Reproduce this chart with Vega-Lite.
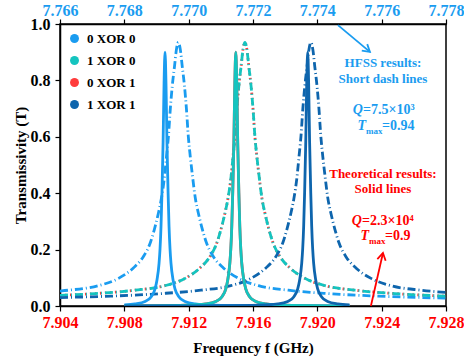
{
  "$schema": "https://vega.github.io/schema/vega-lite/v6.json",
  "width": 386,
  "height": 282,
  "autosize": {"type": "none"},
  "padding": {"left": 60, "top": 24, "right": 18, "bottom": 56},
  "background": "white",
  "config": {
    "view": {"stroke": "black", "strokeWidth": 1.5},
    "font": "Liberation Serif, Times New Roman, serif",
    "text": {"font": "Liberation Serif, Times New Roman, serif", "fontWeight": "bold"}
  },
  "datasets": {
    "hfss": [
      {"series":"0 XOR 0","f":7.766,"T":0.053},{"series":"0 XOR 0","f":7.76626,"T":0.056},{"series":"0 XOR 0","f":7.76719,"T":0.072},{"series":"0 XOR 0","f":7.76782,"T":0.098},{"series":"0 XOR 0","f":7.76828,"T":0.135},{"series":"0 XOR 0","f":7.76859,"T":0.175},{"series":"0 XOR 0","f":7.76881,"T":0.225},{"series":"0 XOR 0","f":7.76893,"T":0.27},{"series":"0 XOR 0","f":7.76906,"T":0.33},{"series":"0 XOR 0","f":7.76915,"T":0.38},{"series":"0 XOR 0","f":7.76925,"T":0.46},{"series":"0 XOR 0","f":7.76931,"T":0.53},{"series":"0 XOR 0","f":7.76937,"T":0.6},{"series":"0 XOR 0","f":7.76943,"T":0.7},{"series":"0 XOR 0","f":7.76949,"T":0.78},{"series":"0 XOR 0","f":7.76956,"T":0.85},{"series":"0 XOR 0","f":7.76962,"T":0.91},{"series":"0 XOR 0","f":7.76968,"T":0.935},{"series":"0 XOR 0","f":7.76974,"T":0.91},{"series":"0 XOR 0","f":7.7698,"T":0.85},{"series":"0 XOR 0","f":7.76987,"T":0.78},{"series":"0 XOR 0","f":7.76993,"T":0.7},{"series":"0 XOR 0","f":7.76999,"T":0.6},{"series":"0 XOR 0","f":7.77005,"T":0.53},{"series":"0 XOR 0","f":7.77012,"T":0.46},{"series":"0 XOR 0","f":7.77021,"T":0.38},{"series":"0 XOR 0","f":7.7703,"T":0.33},{"series":"0 XOR 0","f":7.77043,"T":0.27},{"series":"0 XOR 0","f":7.77055,"T":0.225},{"series":"0 XOR 0","f":7.77077,"T":0.175},{"series":"0 XOR 0","f":7.77108,"T":0.135},{"series":"0 XOR 0","f":7.77155,"T":0.098},{"series":"0 XOR 0","f":7.77217,"T":0.072},{"series":"0 XOR 0","f":7.7731,"T":0.056},{"series":"0 XOR 0","f":7.77434,"T":0.044},{"series":"0 XOR 0","f":7.7759,"T":0.035},{"series":"0 XOR 0","f":7.778,"T":0.028},
      {"series":"1 XOR 0","f":7.766,"T":0.038},{"series":"1 XOR 0","f":7.76709,"T":0.044},{"series":"1 XOR 0","f":7.76833,"T":0.056},{"series":"1 XOR 0","f":7.76926,"T":0.072},{"series":"1 XOR 0","f":7.76989,"T":0.098},{"series":"1 XOR 0","f":7.77035,"T":0.135},{"series":"1 XOR 0","f":7.77066,"T":0.175},{"series":"1 XOR 0","f":7.77088,"T":0.225},{"series":"1 XOR 0","f":7.771,"T":0.27},{"series":"1 XOR 0","f":7.77113,"T":0.33},{"series":"1 XOR 0","f":7.77122,"T":0.38},{"series":"1 XOR 0","f":7.77132,"T":0.46},{"series":"1 XOR 0","f":7.77138,"T":0.53},{"series":"1 XOR 0","f":7.77144,"T":0.6},{"series":"1 XOR 0","f":7.7715,"T":0.7},{"series":"1 XOR 0","f":7.77156,"T":0.78},{"series":"1 XOR 0","f":7.77163,"T":0.85},{"series":"1 XOR 0","f":7.77169,"T":0.91},{"series":"1 XOR 0","f":7.77175,"T":0.935},{"series":"1 XOR 0","f":7.77181,"T":0.91},{"series":"1 XOR 0","f":7.77187,"T":0.85},{"series":"1 XOR 0","f":7.77194,"T":0.78},{"series":"1 XOR 0","f":7.772,"T":0.7},{"series":"1 XOR 0","f":7.77206,"T":0.6},{"series":"1 XOR 0","f":7.77212,"T":0.53},{"series":"1 XOR 0","f":7.77219,"T":0.46},{"series":"1 XOR 0","f":7.77228,"T":0.38},{"series":"1 XOR 0","f":7.77237,"T":0.33},{"series":"1 XOR 0","f":7.7725,"T":0.27},{"series":"1 XOR 0","f":7.77262,"T":0.225},{"series":"1 XOR 0","f":7.77284,"T":0.175},{"series":"1 XOR 0","f":7.77315,"T":0.135},{"series":"1 XOR 0","f":7.77362,"T":0.098},{"series":"1 XOR 0","f":7.77424,"T":0.072},{"series":"1 XOR 0","f":7.77517,"T":0.056},{"series":"1 XOR 0","f":7.77641,"T":0.044},{"series":"1 XOR 0","f":7.778,"T":0.035},
      {"series":"0 XOR 1","f":7.766,"T":0.038},{"series":"0 XOR 1","f":7.76709,"T":0.044},{"series":"0 XOR 1","f":7.76833,"T":0.056},{"series":"0 XOR 1","f":7.76926,"T":0.072},{"series":"0 XOR 1","f":7.76989,"T":0.098},{"series":"0 XOR 1","f":7.77035,"T":0.135},{"series":"0 XOR 1","f":7.77066,"T":0.175},{"series":"0 XOR 1","f":7.77088,"T":0.225},{"series":"0 XOR 1","f":7.771,"T":0.27},{"series":"0 XOR 1","f":7.77113,"T":0.33},{"series":"0 XOR 1","f":7.77122,"T":0.38},{"series":"0 XOR 1","f":7.77132,"T":0.46},{"series":"0 XOR 1","f":7.77138,"T":0.53},{"series":"0 XOR 1","f":7.77144,"T":0.6},{"series":"0 XOR 1","f":7.7715,"T":0.7},{"series":"0 XOR 1","f":7.77156,"T":0.78},{"series":"0 XOR 1","f":7.77163,"T":0.85},{"series":"0 XOR 1","f":7.77169,"T":0.91},{"series":"0 XOR 1","f":7.77175,"T":0.935},{"series":"0 XOR 1","f":7.77181,"T":0.91},{"series":"0 XOR 1","f":7.77187,"T":0.85},{"series":"0 XOR 1","f":7.77194,"T":0.78},{"series":"0 XOR 1","f":7.772,"T":0.7},{"series":"0 XOR 1","f":7.77206,"T":0.6},{"series":"0 XOR 1","f":7.77212,"T":0.53},{"series":"0 XOR 1","f":7.77219,"T":0.46},{"series":"0 XOR 1","f":7.77228,"T":0.38},{"series":"0 XOR 1","f":7.77237,"T":0.33},{"series":"0 XOR 1","f":7.7725,"T":0.27},{"series":"0 XOR 1","f":7.77262,"T":0.225},{"series":"0 XOR 1","f":7.77284,"T":0.175},{"series":"0 XOR 1","f":7.77315,"T":0.135},{"series":"0 XOR 1","f":7.77362,"T":0.098},{"series":"0 XOR 1","f":7.77424,"T":0.072},{"series":"0 XOR 1","f":7.77517,"T":0.056},{"series":"0 XOR 1","f":7.77641,"T":0.044},{"series":"0 XOR 1","f":7.778,"T":0.035},
      {"series":"1 XOR 1","f":7.766,"T":0.03},{"series":"1 XOR 1","f":7.76758,"T":0.035},{"series":"1 XOR 1","f":7.76914,"T":0.044},{"series":"1 XOR 1","f":7.77038,"T":0.056},{"series":"1 XOR 1","f":7.77131,"T":0.072},{"series":"1 XOR 1","f":7.77194,"T":0.098},{"series":"1 XOR 1","f":7.7724,"T":0.135},{"series":"1 XOR 1","f":7.77271,"T":0.175},{"series":"1 XOR 1","f":7.77293,"T":0.225},{"series":"1 XOR 1","f":7.77305,"T":0.27},{"series":"1 XOR 1","f":7.77318,"T":0.33},{"series":"1 XOR 1","f":7.77327,"T":0.38},{"series":"1 XOR 1","f":7.77337,"T":0.46},{"series":"1 XOR 1","f":7.77343,"T":0.53},{"series":"1 XOR 1","f":7.77349,"T":0.6},{"series":"1 XOR 1","f":7.77355,"T":0.7},{"series":"1 XOR 1","f":7.77361,"T":0.78},{"series":"1 XOR 1","f":7.77368,"T":0.85},{"series":"1 XOR 1","f":7.77374,"T":0.91},{"series":"1 XOR 1","f":7.7738,"T":0.935},{"series":"1 XOR 1","f":7.77386,"T":0.91},{"series":"1 XOR 1","f":7.77392,"T":0.85},{"series":"1 XOR 1","f":7.77399,"T":0.78},{"series":"1 XOR 1","f":7.77405,"T":0.7},{"series":"1 XOR 1","f":7.77411,"T":0.6},{"series":"1 XOR 1","f":7.77417,"T":0.53},{"series":"1 XOR 1","f":7.77424,"T":0.46},{"series":"1 XOR 1","f":7.77433,"T":0.38},{"series":"1 XOR 1","f":7.77442,"T":0.33},{"series":"1 XOR 1","f":7.77455,"T":0.27},{"series":"1 XOR 1","f":7.77467,"T":0.225},{"series":"1 XOR 1","f":7.77489,"T":0.175},{"series":"1 XOR 1","f":7.7752,"T":0.135},{"series":"1 XOR 1","f":7.77567,"T":0.098},{"series":"1 XOR 1","f":7.77629,"T":0.072},{"series":"1 XOR 1","f":7.77722,"T":0.056},{"series":"1 XOR 1","f":7.778,"T":0.048}
    ],
    "theory": [
      {"series":"0 XOR 0","f":7.908,"T":0.004},{"series":"0 XOR 0","f":7.90867,"T":0.0073},{"series":"0 XOR 0","f":7.90929,"T":0.016},{"series":"0 XOR 0","f":7.90966,"T":0.032},{"series":"0 XOR 0","f":7.90991,"T":0.061},{"series":"0 XOR 0","f":7.91003,"T":0.092},{"series":"0 XOR 0","f":7.91016,"T":0.152},{"series":"0 XOR 0","f":7.91022,"T":0.203},{"series":"0 XOR 0","f":7.91028,"T":0.282},{"series":"0 XOR 0","f":7.91034,"T":0.403},{"series":"0 XOR 0","f":7.91041,"T":0.581},{"series":"0 XOR 0","f":7.91047,"T":0.79},{"series":"0 XOR 0","f":7.91053,"T":0.9},{"series":"0 XOR 0","f":7.91059,"T":0.79},{"series":"0 XOR 0","f":7.91065,"T":0.581},{"series":"0 XOR 0","f":7.91072,"T":0.403},{"series":"0 XOR 0","f":7.91078,"T":0.282},{"series":"0 XOR 0","f":7.91084,"T":0.203},{"series":"0 XOR 0","f":7.9109,"T":0.152},{"series":"0 XOR 0","f":7.91103,"T":0.092},{"series":"0 XOR 0","f":7.91115,"T":0.061},{"series":"0 XOR 0","f":7.9114,"T":0.032},{"series":"0 XOR 0","f":7.91177,"T":0.016},{"series":"0 XOR 0","f":7.9124,"T":0.0073},{"series":"0 XOR 0","f":7.91364,"T":0.0026},{"series":"0 XOR 0","f":7.9155,"T":0.001},{"series":"0 XOR 0","f":7.91799,"T":0.0005},{"series":"0 XOR 0","f":7.922,"T":0.0003},
      {"series":"1 XOR 0","f":7.908,"T":0.0006},{"series":"1 XOR 0","f":7.90996,"T":0.001},{"series":"1 XOR 0","f":7.91182,"T":0.0026},{"series":"1 XOR 0","f":7.91307,"T":0.0073},{"series":"1 XOR 0","f":7.91369,"T":0.016},{"series":"1 XOR 0","f":7.91406,"T":0.032},{"series":"1 XOR 0","f":7.91431,"T":0.061},{"series":"1 XOR 0","f":7.91443,"T":0.092},{"series":"1 XOR 0","f":7.91456,"T":0.152},{"series":"1 XOR 0","f":7.91462,"T":0.203},{"series":"1 XOR 0","f":7.91468,"T":0.282},{"series":"1 XOR 0","f":7.91474,"T":0.403},{"series":"1 XOR 0","f":7.91481,"T":0.581},{"series":"1 XOR 0","f":7.91487,"T":0.79},{"series":"1 XOR 0","f":7.91493,"T":0.9},{"series":"1 XOR 0","f":7.91499,"T":0.79},{"series":"1 XOR 0","f":7.91505,"T":0.581},{"series":"1 XOR 0","f":7.91512,"T":0.403},{"series":"1 XOR 0","f":7.91518,"T":0.282},{"series":"1 XOR 0","f":7.91524,"T":0.203},{"series":"1 XOR 0","f":7.9153,"T":0.152},{"series":"1 XOR 0","f":7.91543,"T":0.092},{"series":"1 XOR 0","f":7.91555,"T":0.061},{"series":"1 XOR 0","f":7.9158,"T":0.032},{"series":"1 XOR 0","f":7.91617,"T":0.016},{"series":"1 XOR 0","f":7.9168,"T":0.0073},{"series":"1 XOR 0","f":7.91804,"T":0.0026},{"series":"1 XOR 0","f":7.9199,"T":0.001},{"series":"1 XOR 0","f":7.922,"T":0.0006},
      {"series":"0 XOR 1","f":7.908,"T":0.0006},{"series":"0 XOR 1","f":7.90996,"T":0.001},{"series":"0 XOR 1","f":7.91182,"T":0.0026},{"series":"0 XOR 1","f":7.91307,"T":0.0073},{"series":"0 XOR 1","f":7.91369,"T":0.016},{"series":"0 XOR 1","f":7.91406,"T":0.032},{"series":"0 XOR 1","f":7.91431,"T":0.061},{"series":"0 XOR 1","f":7.91443,"T":0.092},{"series":"0 XOR 1","f":7.91456,"T":0.152},{"series":"0 XOR 1","f":7.91462,"T":0.203},{"series":"0 XOR 1","f":7.91468,"T":0.282},{"series":"0 XOR 1","f":7.91474,"T":0.403},{"series":"0 XOR 1","f":7.91481,"T":0.581},{"series":"0 XOR 1","f":7.91487,"T":0.79},{"series":"0 XOR 1","f":7.91493,"T":0.9},{"series":"0 XOR 1","f":7.91499,"T":0.79},{"series":"0 XOR 1","f":7.91505,"T":0.581},{"series":"0 XOR 1","f":7.91512,"T":0.403},{"series":"0 XOR 1","f":7.91518,"T":0.282},{"series":"0 XOR 1","f":7.91524,"T":0.203},{"series":"0 XOR 1","f":7.9153,"T":0.152},{"series":"0 XOR 1","f":7.91543,"T":0.092},{"series":"0 XOR 1","f":7.91555,"T":0.061},{"series":"0 XOR 1","f":7.9158,"T":0.032},{"series":"0 XOR 1","f":7.91617,"T":0.016},{"series":"0 XOR 1","f":7.9168,"T":0.0073},{"series":"0 XOR 1","f":7.91804,"T":0.0026},{"series":"0 XOR 1","f":7.9199,"T":0.001},{"series":"0 XOR 1","f":7.922,"T":0.0006},
      {"series":"1 XOR 1","f":7.908,"T":0.0003},{"series":"1 XOR 1","f":7.91194,"T":0.0005},{"series":"1 XOR 1","f":7.91443,"T":0.001},{"series":"1 XOR 1","f":7.91629,"T":0.0026},{"series":"1 XOR 1","f":7.91754,"T":0.0073},{"series":"1 XOR 1","f":7.91816,"T":0.016},{"series":"1 XOR 1","f":7.91853,"T":0.032},{"series":"1 XOR 1","f":7.91878,"T":0.061},{"series":"1 XOR 1","f":7.9189,"T":0.092},{"series":"1 XOR 1","f":7.91903,"T":0.152},{"series":"1 XOR 1","f":7.91909,"T":0.203},{"series":"1 XOR 1","f":7.91915,"T":0.282},{"series":"1 XOR 1","f":7.91921,"T":0.403},{"series":"1 XOR 1","f":7.91928,"T":0.581},{"series":"1 XOR 1","f":7.91934,"T":0.79},{"series":"1 XOR 1","f":7.9194,"T":0.9},{"series":"1 XOR 1","f":7.91946,"T":0.79},{"series":"1 XOR 1","f":7.91952,"T":0.581},{"series":"1 XOR 1","f":7.91959,"T":0.403},{"series":"1 XOR 1","f":7.91965,"T":0.282},{"series":"1 XOR 1","f":7.91971,"T":0.203},{"series":"1 XOR 1","f":7.91977,"T":0.152},{"series":"1 XOR 1","f":7.9199,"T":0.092},{"series":"1 XOR 1","f":7.92002,"T":0.061},{"series":"1 XOR 1","f":7.92027,"T":0.032},{"series":"1 XOR 1","f":7.92064,"T":0.016},{"series":"1 XOR 1","f":7.92127,"T":0.0073},{"series":"1 XOR 1","f":7.922,"T":0.004}
    ],
    "one": [{}]
  },
  "layer": [
    {
      "data": {"name": "hfss"},
      "layer": [
        {
          "transform": [{"filter": "datum.series == '0 XOR 1'"}],
          "mark": {"type": "line", "strokeWidth": 2.8, "strokeDash": [1.5, 3.5], "interpolate": "monotone", "clip": true},
          "encoding": {
            "x": {"field": "f", "type": "quantitative", "scale": {"domain": [7.766, 7.778], "nice": false, "zero": false},
              "axis": {"orient": "top", "values": [7.766,7.767,7.768,7.769,7.77,7.771,7.772,7.773,7.774,7.775,7.776,7.777,7.778], "format": ".3f",
                "labelExpr": "round(datum.value*1000)%2==0 ? datum.label : ''",
                "labelColor": "#1a9cf0", "labelFontSize": 16, "labelFontWeight": "bold", "labelFont": "Liberation Serif, Times New Roman, serif",
                "labelPadding": 1, "tickSize": 5, "tickColor": "black", "tickWidth": 1.2, "domainColor": "black", "domainWidth": 1.5,
                "title": null, "labelOverlap": false, "labelBound": false, "labelFlush": false, "grid": false,
                "encode": {"ticks": {"update": {"y2": {"signal": "round(datum.value*1000)%2==0 ? 5 : 3"}}}}}},
            "y": {"field": "T", "type": "quantitative", "scale": {"domain": [0, 1]},
              "axis": {"values": [0,0.1,0.2,0.3,0.4,0.5,0.6,0.7,0.8,0.9,1.0], "format": ".1f",
                "labelExpr": "round(datum.value*10)%2==0 ? datum.label : ''",
                "labelColor": "black", "labelFontSize": 16, "labelFontWeight": "bold", "labelFont": "Liberation Serif, Times New Roman, serif",
                "labelPadding": 5, "tickSize": 5, "tickColor": "black", "tickWidth": 1.2, "domainColor": "black", "domainWidth": 1.5,
                "grid": false, "labelOverlap": false, "labelFlush": false,
                "title": "Transmissivity (T)", "titleFont": "Liberation Serif, Times New Roman, serif", "titleFontSize": 15, "titleFontWeight": "bold", "titleColor": "black", "titlePadding": 2,
                "encode": {"ticks": {"update": {"x2": {"signal": "round(datum.value*10)%2==0 ? -5 : -3"}}}}}},
            "color": {"field": "series", "type": "nominal", "scale": {"domain": ["0 XOR 0", "1 XOR 0", "0 XOR 1", "1 XOR 1"], "range": ["#1a9cf0", "#14c4bf", "#ff3c3c", "#0e65ad"]}}
          }
        },
        {
          "transform": [{"filter": "datum.series != '0 XOR 1'"}],
          "mark": {"type": "line", "strokeWidth": 2.8, "strokeDash": [8, 3, 1, 3], "interpolate": "monotone", "clip": true},
          "encoding": {
            "x": {"field": "f", "type": "quantitative", "scale": {"domain": [7.766, 7.778], "nice": false, "zero": false}},
            "y": {"field": "T", "type": "quantitative", "scale": {"domain": [0, 1]}},
            "color": {"field": "series", "type": "nominal", "scale": {"domain": ["0 XOR 0", "1 XOR 0", "0 XOR 1", "1 XOR 1"], "range": ["#1a9cf0", "#14c4bf", "#ff3c3c", "#0e65ad"]}}
          }
        }
      ]
    },
    {
      "layer": [
        {
          "data": {"name": "theory"},
          "transform": [{"filter": "datum.series == '0 XOR 1'"}],
          "mark": {"type": "line", "strokeWidth": 2.8, "interpolate": "monotone", "clip": true},
          "encoding": {
            "x": {"field": "f", "type": "quantitative", "scale": {"domain": [7.904, 7.928], "nice": false, "zero": false},
              "axis": {"orient": "bottom", "values": [7.904,7.906,7.908,7.91,7.912,7.914,7.916,7.918,7.92,7.922,7.924,7.926,7.928], "format": ".3f",
                "labelExpr": "round(datum.value*1000)%4==0 ? datum.label : ''",
                "labelColor": "#ff0000", "labelFontSize": 16, "labelFontWeight": "bold", "labelFont": "Liberation Serif, Times New Roman, serif",
                "labelPadding": 3, "tickSize": 5, "tickColor": "black", "tickWidth": 1.2, "domainColor": "black", "domainWidth": 1.5,
                "labelOverlap": false, "labelBound": false, "labelFlush": false, "grid": false,
                "title": "Frequency f (GHz)", "titleFont": "Liberation Serif, Times New Roman, serif", "titleFontSize": 15, "titleFontWeight": "bold", "titleColor": "black", "titlePadding": 10,
                "encode": {"ticks": {"update": {"y2": {"signal": "round(datum.value*1000)%4==0 ? 5 : 3"}}}}}},
            "y": {"field": "T", "type": "quantitative", "scale": {"domain": [0, 1]}},
            "color": {"field": "series", "type": "nominal", "scale": {"domain": ["0 XOR 0", "1 XOR 0", "0 XOR 1", "1 XOR 1"], "range": ["#1a9cf0", "#14c4bf", "#ff3c3c", "#0e65ad"]}}
          }
        },
        {
          "data": {"name": "theory"},
          "transform": [{"filter": "datum.series != '0 XOR 1'"}],
          "mark": {"type": "line", "strokeWidth": 2.8, "interpolate": "monotone", "clip": true},
          "encoding": {
            "x": {"field": "f", "type": "quantitative", "scale": {"domain": [7.904, 7.928], "nice": false, "zero": false}},
            "y": {"field": "T", "type": "quantitative", "scale": {"domain": [0, 1]}},
            "color": {"field": "series", "type": "nominal", "scale": {"domain": ["0 XOR 0", "1 XOR 0", "0 XOR 1", "1 XOR 1"], "range": ["#1a9cf0", "#14c4bf", "#ff3c3c", "#0e65ad"]},
              "legend": {"orient": "none", "legendX": 8, "legendY": 8, "title": null, "symbolType": "circle", "symbolSize": 80,
                "labelFont": "Liberation Serif, Times New Roman, serif", "labelFontWeight": "bold", "labelFontSize": 13, "labelColor": "black",
                "rowPadding": 8, "padding": 0, "labelOffset": 6,
                "encode": {"symbols": {"update": {"fill": {"scale": "color", "field": "value"}, "fillOpacity": {"value": 1}, "strokeWidth": {"value": 0}, "opacity": {"value": 1}}}}}}
          }
        },
        {
          "data": {"name": "one"},
          "layer": [
            {
              "mark": {"type": "rule", "color": "#1a9cf0", "strokeWidth": 1.8},
              "encoding": {
                "x": {"datum": 7.92128, "type": "quantitative", "scale": {"domain": [7.904, 7.928], "nice": false, "zero": false}},
                "y": {"datum": 0.996, "type": "quantitative"},
                "x2": {"datum": 7.92327},
                "y2": {"datum": 0.901}
              }
            },
            {
              "mark": {"type": "point", "shape": "M -0.6 1 L 0 0 L 0.6 1", "filled": false, "strokeWidth": 1.8, "color": "#1a9cf0", "size": 200, "angle": 130, "opacity": 1},
              "encoding": {
                "x": {"datum": 7.92327, "type": "quantitative", "scale": {"domain": [7.904, 7.928], "nice": false, "zero": false}},
                "y": {"datum": 0.901, "type": "quantitative"}
              }
            },
            {
              "mark": {"type": "rule", "color": "#ff0000", "strokeWidth": 1.8},
              "encoding": {
                "x": {"datum": 7.92333, "type": "quantitative", "scale": {"domain": [7.904, 7.928], "nice": false, "zero": false}},
                "y": {"datum": 0.0, "type": "quantitative"},
                "x2": {"datum": 7.92408},
                "y2": {"datum": 0.188}
              }
            },
            {
              "mark": {"type": "point", "shape": "M -0.6 1 L 0 0 L 0.6 1", "filled": false, "strokeWidth": 1.8, "color": "#ff0000", "size": 200, "angle": 12, "opacity": 1},
              "encoding": {
                "x": {"datum": 7.92408, "type": "quantitative", "scale": {"domain": [7.904, 7.928], "nice": false, "zero": false}},
                "y": {"datum": 0.188, "type": "quantitative"}
              }
            },
            {
              "mark": {"type": "text", "text": "HFSS results:", "color": "#1a9cf0", "fontSize": 13, "align": "center", "baseline": "middle"},
              "encoding": {"x": {"datum": 7.92408, "type": "quantitative", "scale": {"domain": [7.904, 7.928], "nice": false, "zero": false}}, "y": {"datum": 0.863, "type": "quantitative"}}
            },
            {
              "mark": {"type": "text", "text": "Short dash lines", "color": "#1a9cf0", "fontSize": 13, "align": "center", "baseline": "middle"},
              "encoding": {"x": {"datum": 7.92408, "type": "quantitative", "scale": {"domain": [7.904, 7.928], "nice": false, "zero": false}}, "y": {"datum": 0.805, "type": "quantitative"}}
            },
            {
              "mark": {"type": "text", "text": "Q", "color": "#1a9cf0", "fontSize": 14, "fontStyle": "italic", "align": "right", "baseline": "middle", "dx": -20},
              "encoding": {"x": {"datum": 7.92408, "type": "quantitative", "scale": {"domain": [7.904, 7.928], "nice": false, "zero": false}}, "y": {"datum": 0.695, "type": "quantitative"}}
            },
            {
              "mark": {"type": "text", "text": "=7.5×10³", "color": "#1a9cf0", "fontSize": 14, "align": "left", "baseline": "middle", "dx": -20},
              "encoding": {"x": {"datum": 7.92408, "type": "quantitative", "scale": {"domain": [7.904, 7.928], "nice": false, "zero": false}}, "y": {"datum": 0.695, "type": "quantitative"}}
            },
            {
              "mark": {"type": "text", "text": "T", "color": "#1a9cf0", "fontSize": 14, "fontStyle": "italic", "align": "right", "baseline": "middle", "dx": -17},
              "encoding": {"x": {"datum": 7.92408, "type": "quantitative", "scale": {"domain": [7.904, 7.928], "nice": false, "zero": false}}, "y": {"datum": 0.638, "type": "quantitative"}}
            },
            {
              "mark": {"type": "text", "text": "max", "color": "#1a9cf0", "fontSize": 9, "align": "left", "baseline": "middle", "dx": -17, "dy": 5},
              "encoding": {"x": {"datum": 7.92408, "type": "quantitative", "scale": {"domain": [7.904, 7.928], "nice": false, "zero": false}}, "y": {"datum": 0.638, "type": "quantitative"}}
            },
            {
              "mark": {"type": "text", "text": "=0.94", "color": "#1a9cf0", "fontSize": 14, "align": "left", "baseline": "middle", "dx": -1},
              "encoding": {"x": {"datum": 7.92408, "type": "quantitative", "scale": {"domain": [7.904, 7.928], "nice": false, "zero": false}}, "y": {"datum": 0.638, "type": "quantitative"}}
            },
            {
              "mark": {"type": "text", "text": "Theoretical results:", "color": "#ff0000", "fontSize": 13, "align": "center", "baseline": "middle"},
              "encoding": {"x": {"datum": 7.92408, "type": "quantitative", "scale": {"domain": [7.904, 7.928], "nice": false, "zero": false}}, "y": {"datum": 0.468, "type": "quantitative"}}
            },
            {
              "mark": {"type": "text", "text": "Solid lines", "color": "#ff0000", "fontSize": 13, "align": "center", "baseline": "middle"},
              "encoding": {"x": {"datum": 7.92408, "type": "quantitative", "scale": {"domain": [7.904, 7.928], "nice": false, "zero": false}}, "y": {"datum": 0.415, "type": "quantitative"}}
            },
            {
              "mark": {"type": "text", "text": "Q", "color": "#ff0000", "fontSize": 14, "fontStyle": "italic", "align": "right", "baseline": "middle", "dx": -21},
              "encoding": {"x": {"datum": 7.92408, "type": "quantitative", "scale": {"domain": [7.904, 7.928], "nice": false, "zero": false}}, "y": {"datum": 0.301, "type": "quantitative"}}
            },
            {
              "mark": {"type": "text", "text": "=2.3×10⁴", "color": "#ff0000", "fontSize": 14, "align": "left", "baseline": "middle", "dx": -21},
              "encoding": {"x": {"datum": 7.92408, "type": "quantitative", "scale": {"domain": [7.904, 7.928], "nice": false, "zero": false}}, "y": {"datum": 0.301, "type": "quantitative"}}
            },
            {
              "mark": {"type": "text", "text": "T", "color": "#ff0000", "fontSize": 14, "fontStyle": "italic", "align": "right", "baseline": "middle", "dx": -14},
              "encoding": {"x": {"datum": 7.92408, "type": "quantitative", "scale": {"domain": [7.904, 7.928], "nice": false, "zero": false}}, "y": {"datum": 0.248, "type": "quantitative"}}
            },
            {
              "mark": {"type": "text", "text": "max", "color": "#ff0000", "fontSize": 9, "align": "left", "baseline": "middle", "dx": -14, "dy": 5},
              "encoding": {"x": {"datum": 7.92408, "type": "quantitative", "scale": {"domain": [7.904, 7.928], "nice": false, "zero": false}}, "y": {"datum": 0.248, "type": "quantitative"}}
            },
            {
              "mark": {"type": "text", "text": "=0.9", "color": "#ff0000", "fontSize": 14, "align": "left", "baseline": "middle", "dx": 2},
              "encoding": {"x": {"datum": 7.92408, "type": "quantitative", "scale": {"domain": [7.904, 7.928], "nice": false, "zero": false}}, "y": {"datum": 0.248, "type": "quantitative"}}
            }
          ]
        }
      ]
    }
  ],
  "resolve": {"scale": {"x": "independent"}, "axis": {"x": "independent"}}
}
